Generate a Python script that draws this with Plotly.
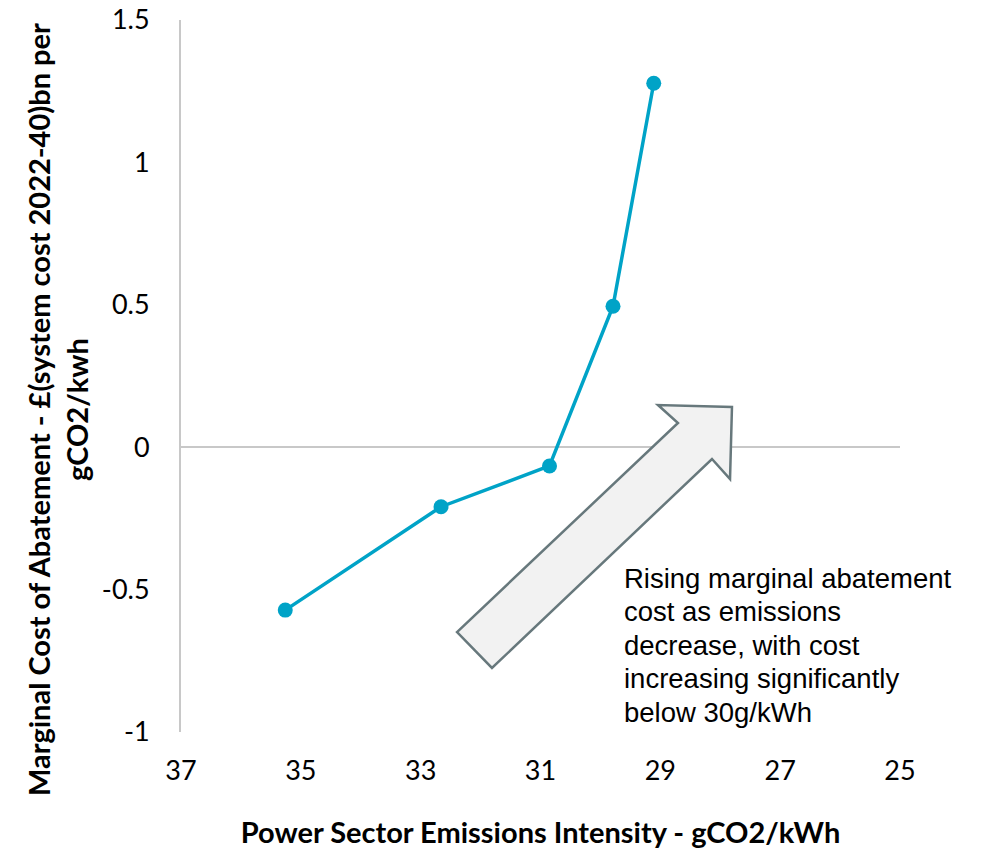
import plotly.graph_objects as go

# Power sector emissions intensity (gCO2/kWh) and marginal abatement cost
intensity = [35.26, 32.66, 30.85, 29.79, 29.11]
marginal_cost = [-0.572, -0.209, -0.066, 0.495, 1.278]

x_ticks = [37, 35, 33, 31, 29, 27, 25]
y_ticks = [-1, -0.5, 0, 0.5, 1, 1.5]
y_tick_labels = ["-1", "-0.5", "0", "0.5", "1", "1.5"]

note_lines = ["Rising marginal abatement", "cost as emissions",
              "decrease, with cost", "increasing significantly",
              "below 30g/kWh"]

x_title = "Power Sector Emissions Intensity - gCO2/kWh"
y_title = "Marginal Cost of Abatement - £(system cost 2022-40)bn per<br>gCO2/kwh"

W, H = 986, 851
ML, MR, MT, MB = 181, 86, 20, 119
PW, PH = W - ML - MR, H - MT - MB


def to_paper(px, py):
    """Convert page pixel position to paper coordinates."""
    return (px - ML) / PW, (H - MB - py) / PH


# Block arrow outline (page pixels) pointing up-right
arrow_px = [(457, 632), (678, 423), (658, 405), (732, 407),
            (730, 479), (712, 459), (492, 668)]
pts = [to_paper(*p) for p in arrow_px]
arrow_path = "M " + " L ".join(f"{x:.4f},{y:.4f}" for x, y in pts) + " Z"

fig = go.Figure()
fig.add_trace(go.Scatter(
    x=intensity, y=marginal_cost, mode="lines+markers",
    line=dict(color="#00a3c7", width=3.5),
    marker=dict(color="#00a3c7", size=15),
    showlegend=False, hoverinfo="skip",
))

fig.add_shape(type="path", path=arrow_path, xref="paper", yref="paper",
              fillcolor="#f2f2f2", line=dict(color="#67787c", width=2.5),
              layer="above")

# Callout text, one line per annotation for tight line spacing
note_font = dict(family="Liberation Sans, Arial", size=27.5, color="#000000")
for i, line in enumerate(note_lines):
    lx, ly = to_paper(622, 578 + 33.5 * i)
    fig.add_annotation(text=line, xref="paper", yref="paper", x=lx, y=ly,
                       xanchor="left", yanchor="middle", showarrow=False,
                       font=note_font)

tick_font = dict(family="Lato, Calibri, sans-serif", size=27, color="#000000")
title_font = dict(family="Lato, Calibri, sans-serif", size=29, color="#000000")

# Vertical axis title placed as a rotated annotation
tx, ty = to_paper(58, 410)
fig.add_annotation(text=f"<b>{y_title}</b>", xref="paper", yref="paper",
                   x=tx, y=ty, xanchor="center", yanchor="middle",
                   textangle=-90, showarrow=False, align="center",
                   font=title_font)

fig.update_layout(
    width=W, height=H,
    margin=dict(l=ML, r=MR, t=MT, b=MB, autoexpand=False),
    paper_bgcolor="white", plot_bgcolor="white",
    xaxis=dict(
        range=[37, 25], tickvals=x_ticks, ticktext=[str(v) for v in x_ticks],
        showgrid=False, zeroline=False, showline=False, ticks="",
        tickfont=tick_font, ticklabelstandoff=20, automargin=False,
        title=dict(text=f"<b>{x_title}</b>", font=title_font, standoff=37),
    ),
    yaxis=dict(
        range=[-1, 1.5], tickvals=y_ticks, ticktext=y_tick_labels,
        showgrid=False, zeroline=True, zerolinecolor="#c8c8c8", zerolinewidth=2,
        showline=True, linecolor="#c8c8c8", linewidth=2, ticks="",
        tickfont=tick_font, ticklabelstandoff=24, automargin=False,
    ),
)

fig.write_html("out.html")
